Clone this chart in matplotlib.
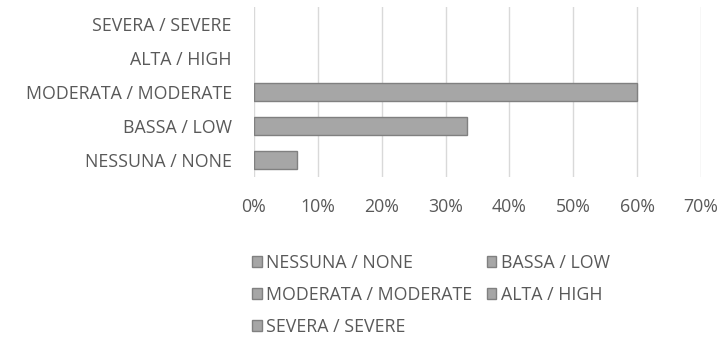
import matplotlib.pyplot as plt
from matplotlib.patches import Patch

categories = ["NESSUNA / NONE", "BASSA / LOW", "MODERATA / MODERATE", "ALTA / HIGH", "SEVERA / SEVERE"]
values = [6.7, 33.3, 60.0, 0.0, 0.0]
xticks = [0, 10, 20, 30, 40, 50, 60, 70]

plt.rcParams['font.family'] = ['Open Sans', 'DejaVu Sans']
txt = '#595959'
fs = 12.8

fig = plt.figure(figsize=(7.23, 3.44), dpi=100)
ax = fig.add_axes([254/723, 1 - 177/344, (701 - 254)/723, 170/344])

lws = [1.0 if v > 0 else 0 for v in values]
ax.barh(range(len(categories)), values, height=0.54, color='#a6a6a6', edgecolor='#808080', linewidth=lws, zorder=3)
ax.set_xlim(0, 70)
ax.set_ylim(-0.5, len(categories) - 0.5)
ax.set_yticks(range(len(categories)))
ax.set_yticklabels(categories, fontsize=fs, color=txt)
ax.set_xticks(xticks)
ax.set_xticklabels([f"{t}%" for t in xticks], fontsize=fs, color=txt)
ax.grid(axis='x', color='#d9d9d9', linewidth=1, zorder=0)
for s in ax.spines.values():
    s.set_visible(False)
ax.tick_params(axis='both', length=0)
ax.tick_params(axis='x', pad=15)
ax.tick_params(axis='y', pad=16)

# row-major legend order as in reference (matplotlib fills column-major)
order = [0, 2, 4, 1, 3]
handles = [Patch(facecolor='#a6a6a6', edgecolor='#808080', label=categories[i]) for i in order]
fig.legend(handles=handles, ncol=2, loc='upper left', bbox_to_anchor=(245/723, 1 - 247/344),
           frameon=False, fontsize=fs, labelcolor=txt, handlelength=0.55, handleheight=0.55,
           handletextpad=0.25, columnspacing=0.8, labelspacing=0.78, borderaxespad=0)

fig.savefig('out.png', dpi=100, facecolor='white')
